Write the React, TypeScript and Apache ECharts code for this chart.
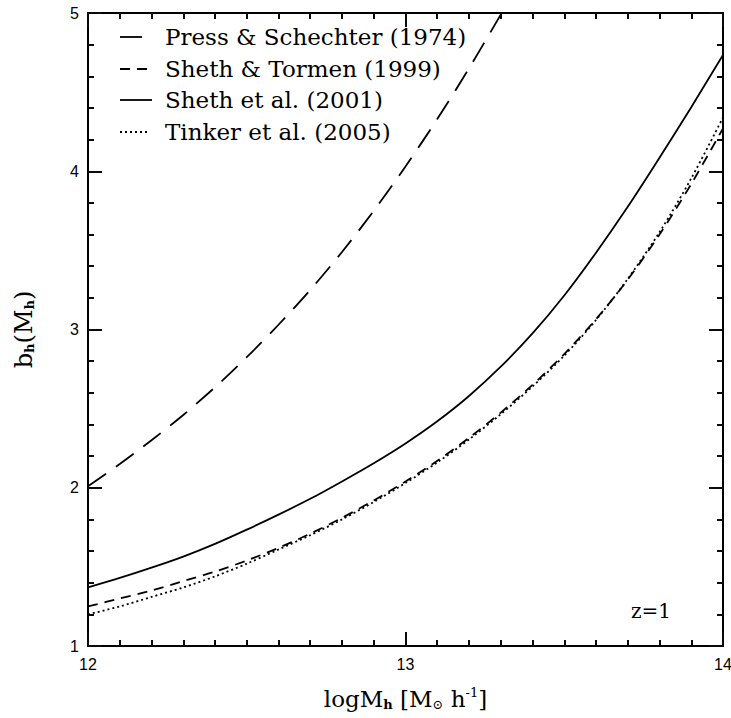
import React, { useEffect, useRef } from "react";
import * as echarts from "echarts";

// log halo mass grid (x values)
const logM = [12.0, 12.1, 12.2, 12.3, 12.4, 12.5, 12.6, 12.7, 12.8, 12.9, 13.0, 13.1, 13.2, 13.3, 13.4, 13.5, 13.6, 13.7, 13.8, 13.9, 14.0];

// bias curves (same order as logM)
const biasPS = [2.01, 2.15, 2.3, 2.46, 2.635, 2.825, 3.03, 3.25, 3.49, 3.75, 4.03, 4.33, 4.65, 4.99];
const biasST = [1.25, 1.3, 1.35, 1.41, 1.47, 1.54, 1.62, 1.71, 1.81, 1.92, 2.04, 2.17, 2.315, 2.475, 2.65, 2.845, 3.065, 3.315, 3.6, 3.92, 4.27];
const biasSMT = [1.37, 1.43, 1.495, 1.565, 1.645, 1.735, 1.83, 1.93, 2.04, 2.155, 2.28, 2.42, 2.58, 2.765, 2.975, 3.215, 3.485, 3.775, 4.085, 4.405, 4.735];
const biasTinker = [1.2, 1.25, 1.31, 1.37, 1.44, 1.52, 1.61, 1.7, 1.8, 1.91, 2.03, 2.16, 2.305, 2.465, 2.64, 2.835, 3.06, 3.32, 3.615, 3.955, 4.34];

const seriesNames = ["Press & Schechter (1974)", "Sheth & Tormen (1999)", "Sheth et al. (2001)", "Tinker et al. (2005)"];
const redshiftLabel = "z=1";

const SERIF = "DejaVu Serif";
const SANS = "Liberation Sans";
const TICK = "#0a0a0a";

const pairs = (ys: number[]) => ys.map((y, i) => [logM[i], y]);

function makeAxis(min: number, max: number, minorSplit: number, position: string, extra: any) {
  return {
    type: "value",
    min,
    max,
    interval: 1,
    position,
    axisLine: { show: true, onZero: false, lineStyle: { color: "#000", width: 2 } },
    axisTick: { show: true, inside: true, length: 14, lineStyle: { color: TICK, width: 2 } },
    minorTick: { show: true, splitNumber: minorSplit, length: 6, lineStyle: { color: TICK, width: 2 } },
    splitLine: { show: false },
    minorSplitLine: { show: false },
    ...extra,
  };
}

export default function App() {
  const ref = useRef<HTMLDivElement>(null);
  useEffect(() => {
    if (!ref.current) return;
    const chart = echarts.init(ref.current, null, { renderer: "svg" });

    const dashes: (number[] | "solid")[] = [[22, 12], [10, 7], "solid", [2, 3]];
    const sampleLen = [25, 27, 32, 30];
    const rowY = [37, 69, 100, 132];

    const graphics: any[] = [];
    seriesNames.forEach((name, i) => {
      graphics.push({
        type: "line",
        shape: { x1: 120, y1: rowY[i], x2: 120 + sampleLen[i], y2: rowY[i] },
        style: {
          stroke: "#000",
          lineWidth: 1.8,
          lineDash: dashes[i] === "solid" ? null : (dashes[i] as number[]),
        },
      });
      graphics.push({
        type: "text",
        x: 165,
        y: rowY[i],
        style: {
          text: name,
          fill: "#000",
          font: `23px "${SERIF}"`,
          verticalAlign: "middle",
          align: "left",
        },
      });
    });
    graphics.push({
      type: "text",
      x: 651,
      y: 611,
      style: {
        text: redshiftLabel,
        fill: "#000",
        font: `20px "${SERIF}"`,
        verticalAlign: "middle",
        align: "center",
      },
    });

    const titleRich = (size: number) => ({
      m: { fontFamily: SERIF, fontSize: size, color: "#000" },
      s: { fontFamily: SERIF, fontSize: 13, fontWeight: "bold", color: "#000", padding: [12, 0, 0, 0] },
      o: { fontFamily: SERIF, fontSize: 13, color: "#000", padding: [12, 0, 0, 0] },
      p: { fontFamily: SERIF, fontSize: 13, color: "#000", padding: [0, 0, 12, 0] },
    });

    const option: any = {
      animation: false,
      backgroundColor: "#fff",
      grid: { left: 88, right: 8, top: 13, bottom: 72, containLabel: false, outerBoundsMode: "none" },
      xAxis: [
        makeAxis(12, 14, 10, "bottom", {
          axisLabel: { show: true, margin: 10, color: "#000", fontFamily: SANS, fontSize: 16 },
          name: "{m|logM}{s|h}{m| [M}{o|⊙}{m| h}{p|-1}{m|]}",
          nameLocation: "middle",
          nameGap: 40,
          nameTextStyle: { rich: titleRich(23) },
        }),
        makeAxis(12, 14, 10, "top", { axisLabel: { show: false } }),
      ],
      yAxis: [
        makeAxis(1, 5, 5, "left", {
          axisLabel: { show: true, margin: 9, color: "#000", fontFamily: SANS, fontSize: 16 },
          name: "{m|b}{s|h}{m|(M}{s|h}{m|)}",
          nameLocation: "middle",
          nameRotate: 90,
          nameGap: 52,
          nameTextStyle: { rich: titleRich(24) },
        }),
        makeAxis(1, 5, 5, "right", { axisLabel: { show: false } }),
      ],
      series: [biasPS, biasST, biasSMT, biasTinker].map((ys, i) => ({
        name: seriesNames[i],
        type: "line",
        xAxisIndex: 0,
        yAxisIndex: 0,
        data: pairs(ys),
        smooth: 0.3,
        showSymbol: false,
        symbol: "none",
        clip: true,
        lineStyle: { color: "#000", width: 1.8, type: dashes[i] },
        silent: true,
      })),
      graphic: graphics,
    };

    chart.setOption(option);
    return () => chart.dispose();
  }, []);

  return (
    <div
      ref={ref}
      style={{ position: "absolute", left: 0, top: 0, width: 731, height: 718, background: "#fff" }}
    />
  );
}
